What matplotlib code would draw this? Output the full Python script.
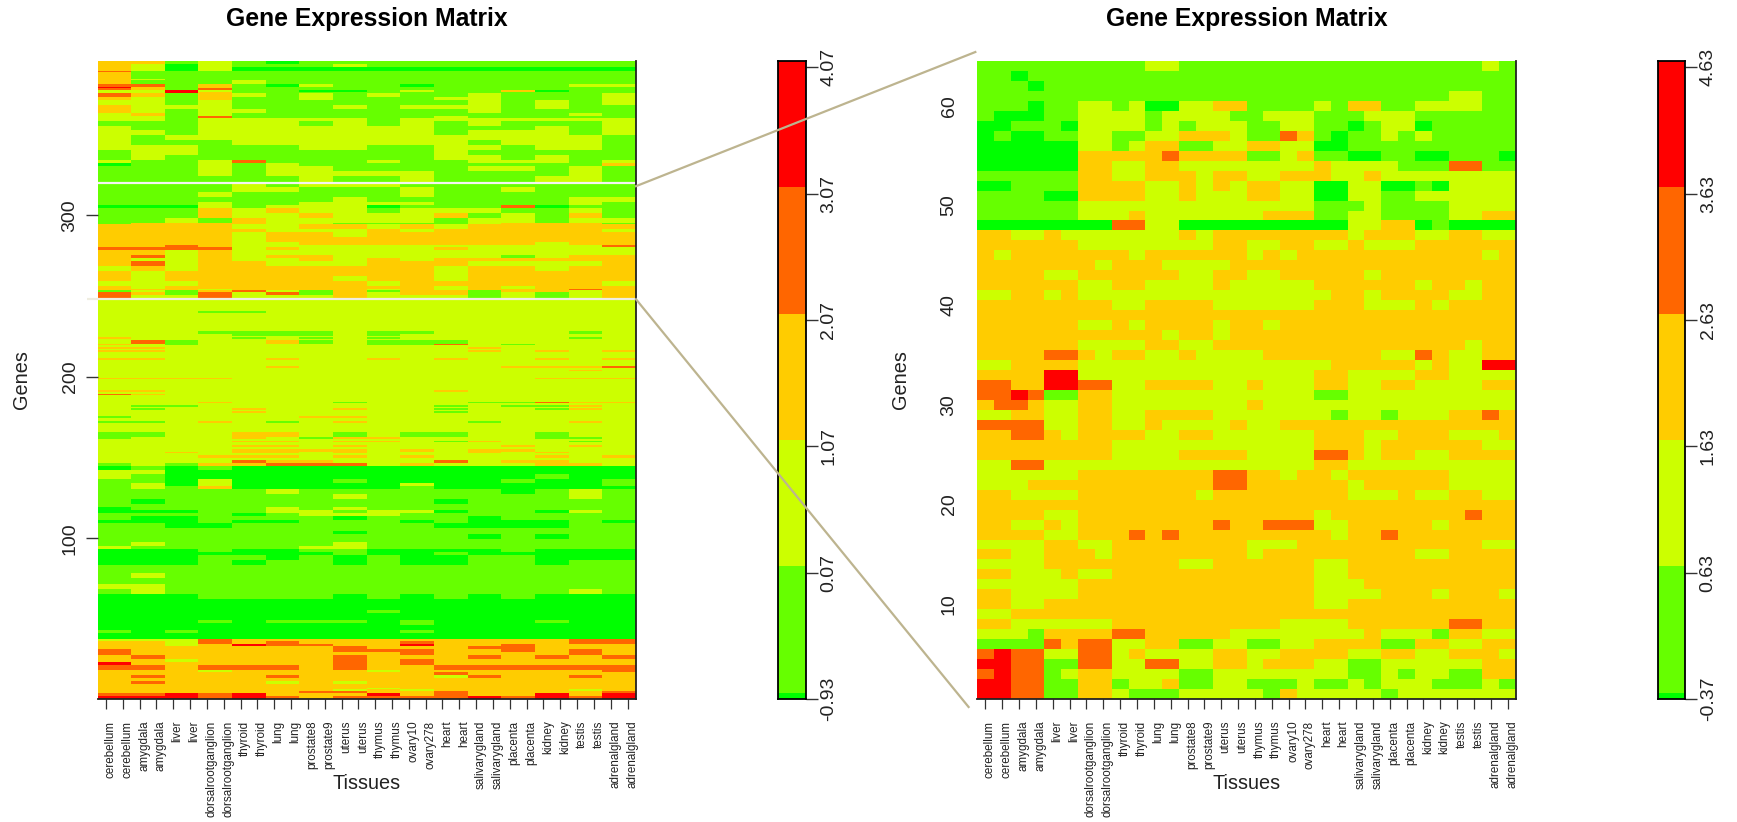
import numpy as np
import matplotlib
matplotlib.use("Agg")
import matplotlib.pyplot as plt
from matplotlib.colors import ListedColormap
from matplotlib.lines import Line2D
from matplotlib.transforms import ScaledTranslation

plt.rcParams['font.family'] = ['Liberation Sans', 'DejaVu Sans']

W, H = 1737, 822
palette = ["#00FF00", "#66FF00", "#CCFF00", "#FFCC00", "#FF6600", "#FF0000"]
line_col = "#BDB48F"
text_col = "#222222"

tissues = ["cerebellum", "cerebellum", "amygdala", "amygdala", "liver", "liver",
           "dorsalrootganglion", "dorsalrootganglion", "thyroid", "thyroid", "lung", "lung",
           "prostate8", "prostate9", "uterus", "uterus", "thymus", "thymus",
           "ovary10", "ovary278", "heart", "heart", "salivarygland", "salivarygland",
           "placenta", "placenta", "kidney", "kidney", "testis", "testis",
           "adrenalgland", "adrenalgland"]

# colour class per cell, top row first, one char per tissue replicate
zoom_rows = [
    "1111111111 22 111111111111111111 2 1",
    "11 0 11111111111111111111111111111",
    "111 0 1111111111111111111111111111",
    "1111111111111111111111111111 22 11",
    "111 0 11 22 1 2 00 22 33 1111 2 1 33 11 2222 11",
    "1 000 11 2222 1 2222 11 222 111 222 111111",
    "00 111 0 2222 1 2 1 222 11 22 11 0 1 22 0 11111",
    "0 1 00 11 22 11 22 333 2 11 4 3 1 0 11 2 1 2 11111",
    "000000 22 1 2 33 11 22 33 22 00 1111111111",
    "000000 33333 4 3333 11 2 3 11 00 11 00 111 0",
    "000000 33 22 33 22222222 3 2222 111 44 11",
    "111111 33 22 333 2 33 22 333 22 3 22222222",
    "00 1111 3333 22 3 2 3 2 33 22 00 22 00 1 0 2222",
    "1111 00 3333 22 3 222 33 22 00 22 11 222222",
    "111111 22222222222222 111 2 1111 2222",
    "111111 222 3 2222222 333 11 22 1111 22 33",
    "00000000 44 22 0000000000 22 33 0 1 0000",
    "33 22 3 2222222 3 2 33333333 2 333 22 33 22",
    "333333 22222222 33 22 33 22 3 222 333333",
    "3 2 3333333 2 333333 2 3 2 33333333333 2 3",
    "3333333 2 333 2222 33333333333333333",
    "3333 22 333333 22 33 22 33333 2 33333333",
    "333333 22 33 2222 3 22222 333333 2 33 2 33",
    "22 33 2 3 222222222222222 33 2 3333 22 33",
    "33333333 22 3333 222222 333 222 3 2 3333",
    "33333333333333333333333333333333",
    "333333 22 3 2 3333 2 33 2 33333333333333",
    "33333333333 2 33 2 33333333333333333",
    "333333 2222 33 22 333333333333333 2 33",
    "3333 44 3 2 33 22 3 2222 3333333 22 4 3 22 33",
    "22 3333 222222222222222 33333 2 3 22 55",
    "3333 55 22222222222222 33 2222 33 2222",
    "44 33 55 44 22 3333 22 3 222 33 22 33 2222 33",
    "44 5 4 11 33 222222222222 11 2222222222",
    "3 44 3 22 33 22222222 3 222222222222222",
    "22 33 22 33 22 3333 2222222 1 22 1 222 33 4 3",
    "4444 22 33 22 3 2222 3 22 33333333333333",
    "33 44 3 2 3333 22 33 222222 333 22 333 222 3",
    "33333333 222222222222 333 2 333333 22",
    "33333333 2222 3333 2222 44 3 2 33 22 3333",
    "22 44 2222222222222222 33 2222222222",
    "222222 33333333 44 33 2 33 2 333333 2222",
    "222 33333333333 44 333333 2 33333 2222",
    "33 2222 3333333 2 33333333 222 3 22 33 22",
    "33333333333333333333333333333333",
    "3333 22 33333333333333 2 33333333 4 33",
    "33 22 3 2 33333333 4 33 444 22 33333 2 3333",
    "3333 22 333 4 3 4 333333333 2 33 4 3333333",
    "2222 33 22 33333333 222 33333333333 22",
    "33 22 333 2 33333333 2 333333333 22 3333",
    "2222 33333333 22 333333 22 3333333333",
    "33 222 3 22 333333333333 22 3333333333",
    "222222 33333333333333 222 333333333",
    "33 2222 33333333333333 2222 333 2 333 2",
    "33 22 3333333333333333 22 3333333333",
    "22 333333333333333333333333333333",
    "33 222222 3333333333 2222 333333 44 33",
    "222 1 3333 44 33333 22222222 3 222 1 33 22",
    "1111 4 3 44 22 33 11 22 11 22 3333 11 33 22 33",
    "4 5 44 22 44 2 3 2222 33 22 3333 22 33 22 333 2",
    "55 44 11 44 22 44 22 33 2 333 22 11 222222 33",
    "4 5 44 1 2 33 2222 11 22222222 11 2 1 22 11 33",
    "55 44 11 33 1 22 3 11 22 111 2 11 2 1 222 111 2 1",
    "55 44 11 33 2 111 22222 1 3 22222 1 2222222",
]

# full matrix: bands of identical genes, top down, one char per tissue pair
overview_counts = [
    2, 2, 2, 1, 4, 1, 2, 2, 1, 1, 1, 1, 2, 2, 3, 3, 2, 2, 1,
    2, 3, 3, 3, 3, 3, 3, 3, 3, 2, 2, 3, 3, 4,
    3, 3, 3, 3, 2, 2, 3, 3, 3,
    1, 3, 2, 3, 3, 2, 1, 2, 3, 2, 2, 3, 3, 3, 3, 3, 2, 1, 1, 2, 2,
    1, 7, 1, 11, 2, 1, 1, 1, 1, 2, 1, 1, 1, 1, 1, 4, 1, 4, 1, 1, 1, 4, 1, 7, 1, 1, 1, 4,
    1, 1, 1, 1, 1, 1, 1, 2, 1, 2, 1, 6, 3, 1, 1, 1, 2, 1, 1, 2, 1, 1, 2, 1, 2, 2,
    2, 3, 3, 2, 2, 2,
    3, 3, 3, 2, 2, 2, 2, 2, 2, 3, 2, 2, 3, 2,
    2, 2, 2, 2, 3, 3, 1, 4, 3, 4, 3, 3,
    3, 7, 2, 4, 2, 1, 3, 2, 4,
    1, 2, 1, 2, 2, 2, 2, 2, 2, 3, 1, 2, 2, 2, 2, 2, 1, 1, 1, 2, 2,
]
plain = "2222222222222222"
overview_rows = [
    "3312101111111111", "3202111211111111", "3202000000000000", "4111111111111111",
    "3111111111111111", "3211111111111111", "3111211111111111", "4413102110111122",
    "5313111111111111", "4314111111111111", "2252110012113011", "2253111111111111",
    "4313212121121112", "3213112111221112", "2212111111121212", "3222111212221211",
    "3212211111121111", "2312111111111121", "2214111111211111",
    "2212222212222222", "1112221212121112", "2112222222111212", "2212222222122212",
    "2122222222222221", "2111222222212221", "2221112211221221", "1221111111211111",
    "1211111111221211", "2112411121122212", "0112121111111113", "1112122111122121",
    "1112122222111121", "1111112112111221",
    "1111212221111111", "1111221112112111", "1112111112111111", "1111111211111122",
    "1112112222111121", "0002122201114011", "1113232212221121",
    "1113223222312131", "1121322222122122",
    "1333322111123331", "3333223323233333", "3333322232333332", "3333233233333333",
    "3333233333333333", "3333223333333233", "3343222222222224", "4444232222322222",
    "3323222222222222", "3423233222221233", "3223223232333333", "3423322233322223",
    "2323333333233233", "3233333333233333", "3233333233233333", "2223333323333332",
    "3233333333232333", "3332333323233343", "1213421313313323", "4314241323312123",
    "4224222322212123",
    "2322112212222122", plain, "2221122222222222", plain,
    "2221111211222212", "2222111212222222", plain, "3222121212222212", plain,
    "2412231211122222", "3212222211421222", plain, "3322222222232222", plain,
    "3322222222232323", plain, "3322232232322323", plain, "2222232222223334", plain,
    "2222222222222232", plain, "3333222222222333", plain, "3322222222322222", plain,
    "4322222222222222", plain, "2223222122211433", plain, "2112222222121132", plain,
    "2122322322122132", plain, "2222322222122222", plain, "1222223322222222", plain,
    "1123212322212232", plain, "1122332121122122", "1222321332222112", plain,
    "2222332332132212", plain, "2222332322223232", plain, "2222333323233222",
    "2232332322232322", plain, "2223332323222323", plain, "2222433222423322", "1213344423222332",
    "0101000000000000", "2200000000000000", "2100000000000100", "1102000100001001",
    "1202000002000001", "1213000001000000",
    "1111121111110121", "1111111211111121", "1011111111011111", "1111111111111111",
    "0111121211111111", "0001122122011021", "1111012221111111", "1001111011101111",
    "0001001110100010", "1100111111000011", "1111111111111111", "1111111011111111",
    "1111111111101011", "1111111111111111", "1211111211111111", "2111112211111111",
    "0001001100001000", "0000000100100000", "0001101010011000", "0001011010011011",
    "1111111111111111", "1111111111111111", "1211111111111111", "1111111111111111",
    "2211111111111111", "1211111111111121",
    "0001111010101000", "0000000000000000", "0000000010000000", "0000000000000000",
    "0001011101000100", "0000000001000000", "0000000000000000", "1010000001000000",
    "0000000000000000",
    "2224333333333344", "3324343334333344", "3323544335334333", "3333333433344333",
    "4333333444334343", "4333333334333343", "3433333433343434", "3323333434333333",
    "5333333434333333", "4434443433444444", "3332333323333334", "3333333333433333",
    "3433343333243343", "3333333333333333", "3433323233333333", "3333333333333333",
    "3333333323333333", "3333333232333323", "3333334433433334", "4454533353433535",
    "5554543444454545",
]

zoom_matrix = np.array([list(r.replace(" ", "")) for r in zoom_rows], dtype=int)[::-1]
overview_matrix = np.array([list(r) for r in overview_rows], dtype=int)
overview_matrix = np.repeat(overview_matrix, overview_counts, axis=0)
overview_matrix = np.repeat(overview_matrix, 2, axis=1)[::-1]

left_ticks = [100, 200, 300]
right_ticks = [10, 20, 30, 40, 50, 60]
left_bar_ticks = [-0.93, 0.07, 1.07, 2.07, 3.07, 4.07]
right_bar_ticks = [-0.37, 0.63, 1.63, 2.63, 3.63, 4.63]
left_bar_breaks = [-0.93, -0.88, 0.12, 1.12, 2.12, 3.12, 4.12]
right_bar_breaks = [-0.37, -0.32, 0.68, 1.68, 2.68, 3.68, 4.68]
zoom_from, zoom_to = 248, 320

cmap = ListedColormap(palette)


def px_axes(fig, x0, x1, y0, y1):
    # pixel box of the reference, y counted from the top
    return fig.add_axes([x0 / W, 1 - y1 / H, (x1 - x0) / W, (y1 - y0) / H])


def heatmap(ax, mat, yticks, ticklen, ypad):
    ny, nx = mat.shape
    ax.pcolormesh(np.arange(nx + 1) + 0.5, np.arange(ny + 1) + 0.5, mat, cmap=cmap, vmin=-0.5, vmax=5.5)
    ax.set_xlim(0.5, nx + 0.5)
    ax.set_ylim(0.5, ny + 0.5)
    for s in ["top", "left"]:
        ax.spines[s].set_visible(False)
    for s in ["bottom", "right"]:
        ax.spines[s].set_color("#222222")
        ax.spines[s].set_linewidth(1.3)
    ax.set_xticks(np.arange(1, nx + 1))
    ax.set_xticklabels(tissues, rotation=90, fontsize=8.4, color=text_col)
    ax.tick_params(axis="x", length=7.5, width=0.9, pad=8, color="#333333")
    # the labels sit a few pixels right of their ticks
    shift = ScaledTranslation(4.5 / 100, 0, fig.dpi_scale_trans)
    for lab in ax.get_xticklabels():
        lab.set_transform(lab.get_transform() + shift)
    ax.set_yticks(yticks)
    ax.set_yticklabels(yticks, rotation=90, va="center", fontsize=14, color=text_col)
    ax.tick_params(axis="y", length=ticklen, width=1, pad=ypad, color="#333333")
    ax.text(0.5, 1.066, "Gene Expression Matrix", transform=ax.transAxes, ha="center", va="center",
            fontsize=17.8, fontweight="bold", color="black")
    ax.text(0.5, -0.133, "Tissues", transform=ax.transAxes, ha="center", va="center", fontsize=14.3, color=text_col)
    ax.text(-0.142, 0.5, "Genes", transform=ax.transAxes, ha="center", va="center", rotation=90,
            fontsize=14.3, color=text_col)


def colorbar(ax, breaks, ticks):
    ax.pcolormesh([0, 1], breaks, np.arange(6).reshape(-1, 1), cmap=cmap, vmin=-0.5, vmax=5.5)
    ax.set_xlim(0, 1)
    ax.set_ylim(breaks[0], breaks[-1])
    ax.set_xticks([])
    ax.yaxis.tick_right()
    ax.set_yticks(ticks)
    ax.set_yticklabels(["%.2f" % t for t in ticks], rotation=90, va="center", fontsize=14, color=text_col)
    ax.tick_params(axis="y", length=8.6, width=1, pad=2, color="#333333")
    for s in ax.spines.values():
        s.set_color("black")
        s.set_linewidth(1.3)


fig = plt.figure(figsize=(W / 100, H / 100), dpi=100, facecolor="white")

ax_all = px_axes(fig, 97.5, 636, 61, 699)
ax_zoom = px_axes(fig, 977, 1516, 61, 699)
bar_all = px_axes(fig, 778, 805.5, 61, 699)
bar_zoom = px_axes(fig, 1657.5, 1685, 61, 699)

heatmap(ax_all, overview_matrix, left_ticks, 8.6, 5)
heatmap(ax_zoom, zoom_matrix, right_ticks, 0, 14)
colorbar(bar_all, left_bar_breaks, left_bar_ticks)
colorbar(bar_zoom, right_bar_breaks, right_bar_ticks)

# the two selection lines and the connectors to the zoomed panel
ax_all.plot([0.5, 32.5], [zoom_to, zoom_to], color="#F4F4F4", lw=1.6, solid_capstyle="butt")
ax_all.plot([-0.1, 32.5], [zoom_from, zoom_from], color="#EFEDE0", lw=1.6, clip_on=False, solid_capstyle="butt")
to_fig = fig.transFigure.inverted()
for y_from, y_to, x_to in [(zoom_to - 2, 65.4, 0.4), (zoom_from, -0.3, 0.0)]:
    p0 = to_fig.transform(ax_all.transData.transform((32.5, y_from)))
    p1 = to_fig.transform(ax_zoom.transData.transform((x_to, y_to)))
    fig.add_artist(Line2D([p0[0], p1[0]], [p0[1], p1[1]], transform=fig.transFigure,
                          color=line_col, lw=1.6, zorder=5))

fig.savefig("out.png", dpi=100)
